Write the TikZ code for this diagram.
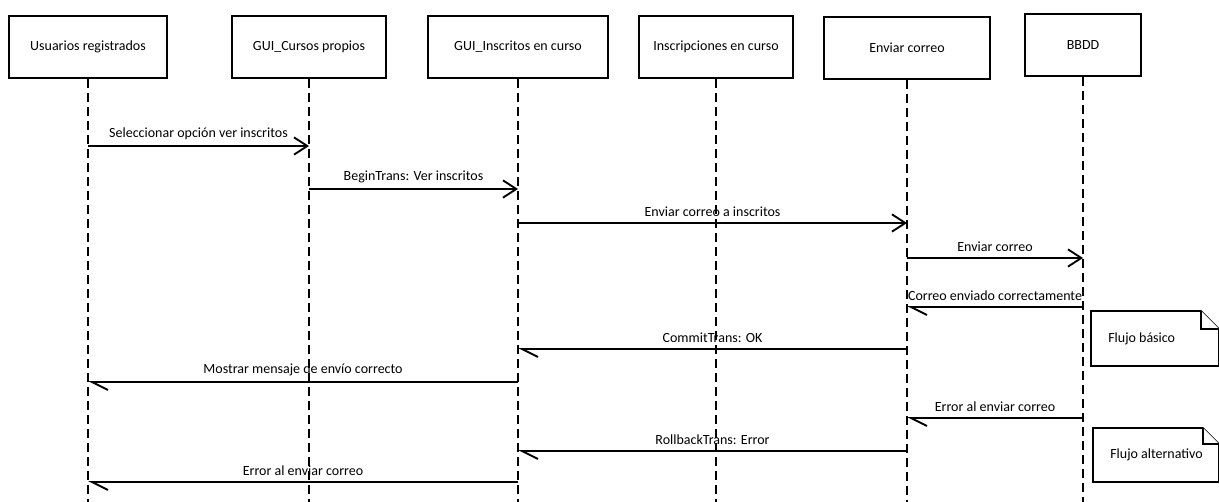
\documentclass[tikz,border=0pt]{standalone}
\usepackage{fontspec}
\setmainfont{Carlito}
\usetikzlibrary{arrows.meta}
\begin{document}
\begin{tikzpicture}[x=0.75pt,y=-0.75pt,
  obj/.style={draw,line width=1.4pt,minimum height=47pt,inner sep=0pt,font=\fontsize{10.5}{12}\selectfont},
  life/.style={line width=1.4pt,dash pattern=on 6.75pt off 3.75pt},
  msg/.style={line width=1.4pt,-{Straight Barb[length=10pt,width=13pt,line width=1.4pt]}},
  ret/.style={line width=1.4pt,-{Straight Barb[left,length=12pt,width=12pt,line width=1.4pt]}},
  lbl/.style={font=\fontsize{10.5}{12}\selectfont,inner sep=1pt},
  note/.style={line width=1.2pt,fill=white},
  notetext/.style={font=\fontsize{10.5}{12}\selectfont,anchor=west,inner sep=0pt}]
\useasboundingbox (0,0) rectangle (1219,502);

% participants
\node[obj,minimum width=118pt] (u) at (88,47) {Usuarios registrados};
\node[obj,minimum width=116pt] (g1) at (309,47) {GUI\_Cursos propios};
\node[obj,minimum width=135pt] (g2) at (518,47) {GUI\_Inscritos en curso};
\node[obj,minimum width=115pt] (ic) at (716,47) {Inscripciones en curso};
\node[obj,minimum width=124pt] (ec) at (907,48) {Enviar correo};
\node[obj,minimum width=87pt] (db) at (1083,45) {BBDD};

% lifelines
\foreach \n in {u,g1,g2,ic,ec,db}
  \draw[life] (\n.south) -- (\n.south |- 0,502);

% calls
\draw[msg] (u |- 0,146) -- node[lbl,above=3pt] {Seleccionar opción ver inscritos} (g1 |- 0,146);
\draw[msg] (g1 |- 0,189) -- node[lbl,above=3pt] {BeginTrans: Ver inscritos} (g2 |- 0,189);
\draw[msg] (g2 |- 0,223) -- node[lbl,above=3pt] {Enviar correo a inscritos} (ec |- 0,223);
\draw[msg] (ec |- 0,258) -- node[lbl,above=3pt] {Enviar correo} (db |- 0,258);
% replies
\draw[ret] (db |- 0,307) -- node[lbl,above=3pt] {Correo enviado correctamente} (ec |- 0,307);
\draw[ret] (ec |- 0,349) -- node[lbl,above=3pt] {CommitTrans: OK} (g2 |- 0,349);
\draw[ret] (g2 |- 0,382) -- node[lbl,above=3pt] {Mostrar mensaje de envío correcto} (u |- 0,382);
\draw[ret] (db |- 0,418) -- node[lbl,above=3pt] {Error al enviar correo} (ec |- 0,418);
\draw[ret] (ec |- 0,451) -- node[lbl,above=3pt] {RollbackTrans: Error} (g2 |- 0,451);
\draw[ret] (g2 |- 0,482) -- node[lbl,above=3pt] {Error al enviar correo} (u |- 0,482);

% notes
\draw[note] (1091,311) -- (1201,311) -- (1219,329) -- (1219,366) -- (1091,366) -- cycle;
\draw[note] (1201,311) -- (1201,329) -- (1219,329);
\node[notetext] (n1) at (1108,339) {Flujo básico};
\draw[note] (1093,428) -- (1203,428) -- (1219,444) -- (1219,482) -- (1093,482) -- cycle;
\draw[note] (1203,428) -- (1203,444) -- (1219,444);
\node[notetext] (n2) at (1110,455) {Flujo alternativo};
\end{tikzpicture}
\end{document}
